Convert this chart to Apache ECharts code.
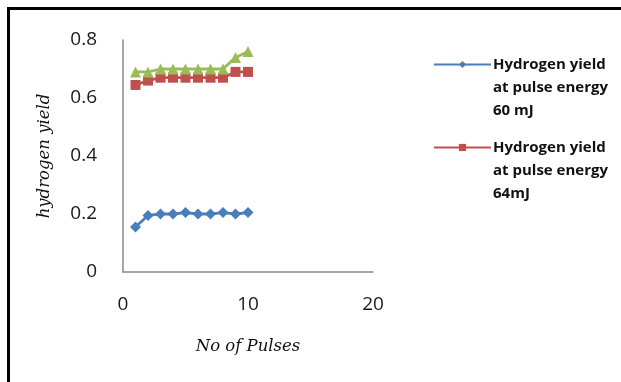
<!DOCTYPE html>
<html>
<head>
<meta charset="utf-8">
<script src="https://cdn.jsdelivr.net/npm/echarts@6/dist/echarts.min.js"></script>
<style>
  html, body { margin: 0; padding: 0; background: #fff; }
  #chart { width: 621px; height: 382px; }
</style>
</head>
<body>
<div id="chart"></div>
<script>
// Pulse counts along the x axis
const pulses = [1, 2, 3, 4, 5, 6, 7, 8, 9, 10];

// Hydrogen yield per pulse count
const yield60mJ = [0.155, 0.195, 0.2, 0.2, 0.205, 0.2, 0.2, 0.205, 0.2, 0.205];
const yield64mJ = [0.645, 0.66, 0.67, 0.67, 0.67, 0.67, 0.67, 0.67, 0.69, 0.69];
const yieldThird = [0.69, 0.69, 0.70, 0.70, 0.70, 0.70, 0.70, 0.70, 0.74, 0.76];

// Axis ticks
const xTicks = [0, 10, 20];
const yTicks = [0, 0.2, 0.4, 0.6, 0.8];

const name60 = 'Hydrogen yield at pulse energy 60 mJ';
const name64 = 'Hydrogen yield at pulse energy 64mJ';

const pairs = ys => pulses.map((x, i) => [x, ys[i]]);

const chart = echarts.init(document.getElementById('chart'), null, { renderer: 'canvas' });

const axisFont = { fontFamily: 'Open Sans', fontSize: 19, color: '#1a1a1a' };
const nameFont = { fontFamily: 'DejaVu Serif', fontStyle: 'italic', fontSize: 16.5, color: '#111' };

// One legend block per series; the name wraps over three lines and the
// two leading blank lines keep the swatch level with the first line.
function legendBlock(name, top) {
  return {
    data: [name],
    orient: 'vertical',
    left: 428,
    top: top,
    itemWidth: 57,
    itemHeight: 9,
    textStyle: {
      fontFamily: 'Open Sans',
      fontWeight: 'bold',
      fontSize: 15,
      color: '#111',
      lineHeight: 23,
      padding: [0, 0, 0, -3]
    },
    formatter: function (n) {
      const m = n.match(/^(Hydrogen yield) (at pulse energy) (.*)$/);
      return '\n\n' + m[1] + '\n' + m[2] + '\n' + m[3];
    }
  };
}

chart.setOption({
  animation: false,
  backgroundColor: '#fff',
  graphic: [{
    type: 'rect',
    shape: { x: 8.5, y: 8.5, width: 700, height: 500 },
    style: { fill: 'none', stroke: '#000', lineWidth: 3 },
    silent: true
  }],
  grid: { left: 123, right: 248, top: 40, bottom: 110 },
  xAxis: {
    type: 'value',
    min: xTicks[0],
    max: xTicks[xTicks.length - 1],
    interval: xTicks[1] - xTicks[0],
    name: 'No of Pulses',
    nameLocation: 'middle',
    nameGap: 66,
    nameTextStyle: nameFont,
    axisLine: { show: true, lineStyle: { color: '#8a8a8a', width: 1.5 } },
    axisTick: { show: false },
    splitLine: { show: false },
    axisLabel: Object.assign({ margin: 23 }, axisFont)
  },
  yAxis: {
    type: 'value',
    min: yTicks[0],
    max: yTicks[yTicks.length - 1],
    interval: yTicks[1] - yTicks[0],
    name: 'hydrogen yield',
    nameLocation: 'middle',
    nameGap: 70,
    nameTextStyle: nameFont,
    axisLine: { show: true, lineStyle: { color: '#8a8a8a', width: 1.5 } },
    axisTick: { show: false },
    splitLine: { show: false },
    axisLabel: Object.assign({ margin: 26 }, axisFont)
  },
  legend: [legendBlock(name60, 2), legendBlock(name64, 85)],
  series: [
    {
      name: name60,
      type: 'line',
      data: pairs(yield60mJ),
      color: '#4a7ebb',
      symbol: 'diamond',
      symbolSize: 11,
      lineStyle: { width: 2.8 }
    },
    {
      name: name64,
      type: 'line',
      data: pairs(yield64mJ),
      color: '#c0504d',
      symbol: 'rect',
      symbolSize: 10,
      lineStyle: { width: 2.8 }
    },
    {
      name: 'series3',
      type: 'line',
      data: pairs(yieldThird),
      color: '#9bbb59',
      symbol: 'triangle',
      symbolSize: 11,
      lineStyle: { width: 2.8 }
    }
  ]
});
</script>
</body>
</html>
